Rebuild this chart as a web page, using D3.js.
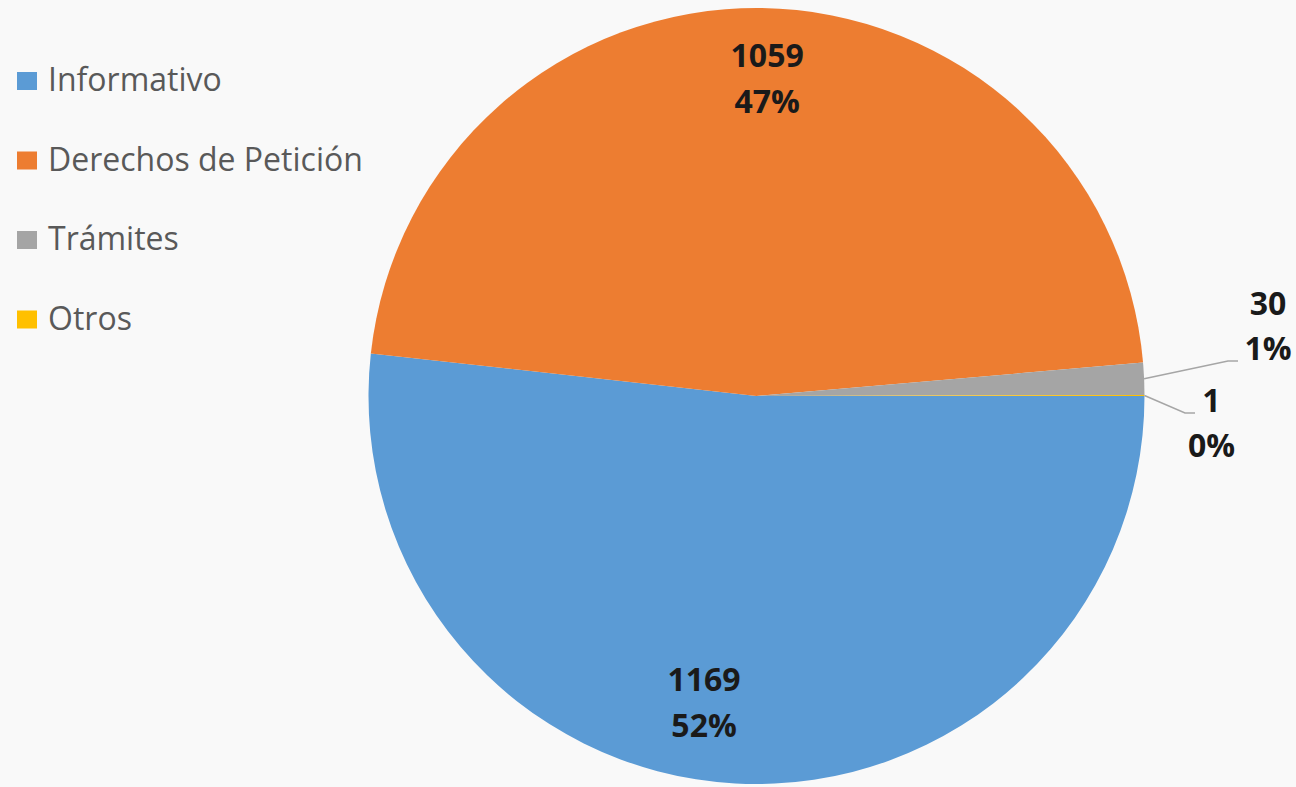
<!DOCTYPE html>
<html><head><meta charset="utf-8">
<script src="https://cdn.jsdelivr.net/npm/d3@7"></script>
<style>html,body{margin:0;padding:0;background:#f9f9f9;}svg{display:block;}</style>
</head><body>
<svg id="c" width="1296" height="787"></svg>
<script>
const categories = ["Informativo", "Derechos de Petición", "Trámites", "Otros"];
const values = [1169, 1059, 30, 1];
const percentLabels = ["52%", "47%", "1%", "0%"];
const colors = ["#5B9BD5", "#ED7D31", "#A5A5A5", "#FFC000"];

const W = 1296, H = 787;
const cx = 756.5, cy = 396, R = 388;
const svg = d3.select("#c");
const font = "'Open Sans', 'Noto Sans', sans-serif";

const pie = d3.pie().sort(null).value(d => d.v)
  .startAngle(Math.PI / 2).endAngle(Math.PI / 2 + 2 * Math.PI);
const data = categories.map((c, i) => ({ c, v: values[i], p: percentLabels[i], col: colors[i] }));
const arcs = pie(data);
const arc = d3.arc().innerRadius(0).outerRadius(R);

const g = svg.append("g").attr("transform", `translate(${cx},${cy})`);
g.selectAll("path").data(arcs).enter().append("path")
  .attr("d", arc).attr("fill", d => d.data.col);

// label layout: inside for big slices, outside with leader lines for small
const layout = [
  { inside: true, r: 0.82, dx: -35 },
  { inside: true, r: 0.789, dx: 7 },
  { inside: false, pt: [481.5, -35], tx: [511.5, -81], anchor: "middle" },
  { inside: false, pt: [438.5, 17], tx: [455, 16], anchor: "middle" }
];

arcs.forEach((a, i) => {
  const L = layout[i];
  const mid = (a.startAngle + a.endAngle) / 2;
  const lbl = (x, y0, gap) => {
    const t = g.append("text").attr("text-anchor", "middle")
      .attr("font-family", font).attr("font-weight", 700).attr("font-size", 32).attr("fill", "#1a1a1a");
    t.append("tspan").attr("x", x).attr("y", y0).text(a.data.v);
    t.append("tspan").attr("x", x).attr("y", y0 + gap).text(a.data.p);
  };
  if (L.inside) {
    const rr = R * L.r;
    const x = Math.sin(mid) * rr + L.dx;
    const y = -Math.cos(mid) * rr;
    lbl(x, y - 23, 46);
  } else {
    const ex = Math.sin(mid) * R, ey = -Math.cos(mid) * R;
    const [px, py] = L.pt;
    g.append("polyline")
      .attr("points", `${ex},${ey} ${px - 10},${py} ${px},${py}`)
      .attr("fill", "none").attr("stroke", "#a6a6a6").attr("stroke-width", 1.5);
    lbl(L.tx[0], L.tx[1], 45);
  }
});

// legend
const lg = svg.append("g").attr("transform", "translate(17,91)");
const item = lg.selectAll("g").data(data).enter().append("g")
  .attr("transform", (d, i) => `translate(0,${i * 79.5})`);
item.append("rect").attr("x", 0).attr("y", -19).attr("width", 20).attr("height", 18).attr("fill", d => d.col);
item.append("text").attr("x", 31).attr("y", 0)
  .attr("font-family", font).attr("font-size", 32).attr("fill", "#595959")
  .text(d => d.c);
</script>
</body></html>
